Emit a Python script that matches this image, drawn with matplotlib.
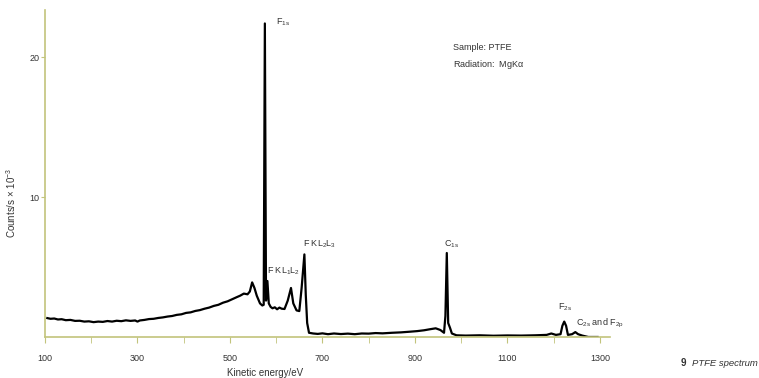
import matplotlib.pyplot as plt

plt.rcParams["font.family"] = ["Liberation Sans", "DejaVu Sans"]
plt.rcParams["mathtext.default"] = "regular"

# spectrum (kinetic energy in eV, counts/s x 1e-3)
energy = [105, 112, 120, 128, 136, 145, 155, 165, 175, 185, 195, 205,
          215, 225, 235, 245, 255, 265, 275, 285, 295, 300, 305, 315,
          325, 335, 345, 355, 365, 375, 385, 395, 405, 415, 425, 435,
          445, 455, 465, 475, 485, 495, 505, 515, 522, 530, 538, 543,
          548, 553, 558, 565, 570, 573, 575.5, 578, 581, 584, 588, 592,
          597, 602, 607, 612, 618, 625, 632, 637, 644, 650, 655, 661,
          664, 667, 671, 680, 690, 700, 712, 725, 740, 755, 770, 785,
          800, 815, 830, 850, 870, 890, 905, 920, 932, 945, 955, 963,
          966, 969, 972, 976, 980, 990, 1010, 1040, 1070, 1100, 1130,
          1160, 1185, 1195, 1205, 1215, 1219, 1223, 1227, 1231, 1240,
          1247, 1253, 1262, 1275, 1295]
counts = [1.35, 1.30, 1.32, 1.25, 1.27, 1.20, 1.22, 1.15, 1.16, 1.10, 1.12, 1.06,
          1.10, 1.08, 1.14, 1.10, 1.16, 1.13, 1.19, 1.15, 1.18, 1.10, 1.18, 1.22,
          1.28, 1.30, 1.36, 1.40, 1.46, 1.50, 1.58, 1.62, 1.72, 1.76, 1.86, 1.92,
          2.02, 2.10, 2.22, 2.30, 2.45, 2.55, 2.70, 2.85, 2.95, 3.10, 3.05, 3.25,
          3.90, 3.50, 2.95, 2.40, 2.25, 2.30, 22.4, 2.60, 4.00, 2.40, 2.15, 2.05,
          2.12, 1.98, 2.10, 2.02, 2.00, 2.60, 3.50, 2.40, 1.90, 1.85, 3.50, 5.90,
          3.00, 1.00, 0.30, 0.25, 0.22, 0.26, 0.20, 0.25, 0.21, 0.24, 0.20, 0.25,
          0.24, 0.28, 0.26, 0.30, 0.33, 0.38, 0.42, 0.48, 0.55, 0.62, 0.50, 0.30,
          1.50, 6.00, 1.00, 0.65, 0.25, 0.12, 0.10, 0.12, 0.09, 0.11, 0.10,
          0.12, 0.15, 0.25, 0.15, 0.20, 0.80, 1.10, 0.80, 0.15, 0.20,
          0.35, 0.20, 0.10, 0.00, 0.00]

xticks = [100, 300, 500, 700, 900, 1100, 1300]
yticks = [10, 20]

axis_col = "#c2c47c"
text_col = "#333333"

fig = plt.figure(figsize=(7.59, 3.78), dpi=100)
ax = fig.add_axes([0.0593, 0.1085, 0.7444, 0.865])

ax.plot(energy, counts, color="black", lw=1.6)

ax.set_xlim(100, 1322)
ax.set_ylim(0, 23.36)
ax.set_xticks(xticks)
ax.set_xticks(range(200, 1301, 200), minor=True)
ax.set_yticks(yticks)

for side in ["top", "right"]:
    ax.spines[side].set_visible(False)
for side in ["left", "bottom"]:
    ax.spines[side].set_color(axis_col)
    ax.spines[side].set_linewidth(1.2)

ax.tick_params(axis="x", which="both", direction="out", length=4,
               color=axis_col, labelsize=6.5, labelcolor=text_col, pad=8)
ax.tick_params(axis="y", direction="out", length=3, color=axis_col,
               labelsize=6.5, labelcolor=text_col, pad=1)

ax.set_xlabel("Kinetic energy/eV", fontsize=7, color=text_col, labelpad=2)
ax.xaxis.set_label_coords(0.39, -0.095)
ax.set_ylabel(r"Counts/s $\times$ 10$^{-3}$", fontsize=7, color=text_col)
ax.yaxis.set_label_coords(-0.048, 0.41)

lab = dict(fontsize=6.5, color=text_col)
ax.text(599, 22.5, r"F$_{1s}$", ha="left", va="center", **lab)
ax.text(580, 4.7, r"F KL$_{1}$L$_{2}$", ha="left", va="center", **lab)
ax.text(658, 6.6, r"F KL$_{2}$L$_{3}$", ha="left", va="center", **lab)
ax.text(980, 6.6, r"C$_{1s}$", ha="center", va="center", **lab)
ax.text(1209, 2.1, r"F$_{2s}$", ha="left", va="center", **lab)
ax.text(1248, 1.0, r"C$_{2s}$ and F$_{2p}$", ha="left", va="center", **lab)
ax.text(982, 20.7, "Sample: PTFE", ha="left", va="center", **lab)
ax.text(982, 19.5, r"Radiation:  MgK$\alpha$", ha="left", va="center", **lab)

fig.text(681 / 759, 1 - 363 / 378, "9", fontsize=7, fontweight="bold",
         color=text_col, ha="left", va="center")
fig.text(758 / 759, 1 - 363 / 378, "PTFE spectrum", fontsize=6.8,
         style="italic", color=text_col, ha="right", va="center")

fig.savefig("out.png", dpi=100)
